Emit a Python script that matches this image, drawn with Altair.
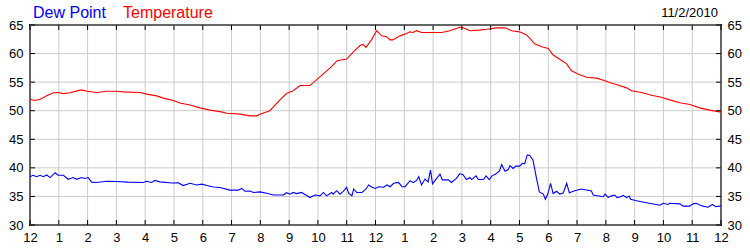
import altair as alt
import pandas as pd

# ---------------- data ----------------
temp_hours = [0, 0.17, 0.35, 0.58, 0.81, 0.98, 1.16, 1.39, 1.74, 1.85, 1.97, 2.32, 2.66, 3.0, 3.24,
              3.82, 4.05, 4.4, 4.63, 4.98, 5.2, 5.56, 5.9, 6.25, 6.65, 6.83, 7.3, 7.64, 7.87, 7.99,
              8.33, 8.68, 8.91, 9.14, 9.38, 9.72, 9.95, 10.18, 10.47, 10.67, 11.0, 11.23, 11.46,
              11.57, 11.67, 11.86, 12.04, 12.21, 12.38, 12.5, 12.6, 12.85, 13.08, 13.19, 13.3,
              13.43, 13.6, 14.0, 14.3, 14.58, 14.93, 15.05, 15.28, 15.6, 15.86, 16.2, 16.5, 16.73,
              17.0, 17.25, 17.53, 17.77, 18.0, 18.17, 18.4, 18.64, 18.81, 19.05, 19.33, 19.68,
              19.97, 20.2, 20.37, 20.72, 20.89, 21.24, 21.58, 21.93, 22.22, 22.57, 22.92, 23.26,
              23.6, 23.96, 24.0]
temp_values = [52.0, 51.8, 52.0, 52.6, 53.15, 53.2, 53.0, 53.15, 53.6, 53.6, 53.4, 53.2, 53.4, 53.4,
               53.3, 53.2, 52.9, 52.6, 52.2, 51.8, 51.35, 51.0, 50.5, 50.1, 49.8, 49.55, 49.4, 49.1,
               49.1, 49.4, 50.0, 51.9, 53.0, 53.5, 54.4, 54.4, 55.4, 56.4, 57.7, 58.75, 59.05, 60.3,
               61.4, 61.6, 61.1, 62.4, 64.0, 63.1, 62.95, 62.4, 62.4, 63.1, 63.5, 63.8, 63.7, 64.0,
               63.7, 63.7, 63.7, 64.0, 64.6, 64.5, 64.0, 64.1, 64.25, 64.5, 64.5, 64.0, 63.8, 63.25,
               61.7, 61.2, 60.9, 59.75, 59.0, 58.2, 57.0, 56.4, 55.85, 55.7, 55.25, 54.8, 54.6, 54.0,
               53.5, 53.2, 52.7, 52.35, 51.9, 51.4, 51.1, 50.5, 50.1, 49.8, 49.8]

dew_hours = [0, 0.1, 0.23, 0.35, 0.46, 0.58, 0.7, 0.87, 0.98, 1.16, 1.33, 1.5, 1.62, 1.79, 1.9, 2.02,
             2.14, 2.32, 2.66, 3.0, 3.4, 3.93, 4.05, 4.22, 4.34, 4.51, 4.93, 5.15, 5.32, 5.56, 5.79,
             5.97, 6.14, 6.37, 6.6, 6.94, 7.23, 7.35, 7.47, 7.64, 7.76, 7.99, 8.22, 8.45, 8.8, 8.91,
             9.03, 9.14, 9.26, 9.43, 9.55, 9.72, 9.9, 10.07, 10.19, 10.3, 10.48, 10.53, 10.65, 10.77,
             10.88, 11.0, 11.06, 11.18, 11.24, 11.35, 11.53, 11.67, 11.76, 11.88, 12.0, 12.11, 12.28,
             12.4, 12.51, 12.63, 12.8, 12.92, 13.03, 13.2, 13.31, 13.43, 13.5, 13.6, 13.72, 13.83,
             13.91, 13.98, 14.24, 14.32, 14.53, 14.64, 14.81, 14.93, 15.04, 15.16, 15.28, 15.34,
             15.49, 15.57, 15.75, 15.84, 15.95, 16.04, 16.2, 16.31, 16.38, 16.5, 16.61, 16.67, 16.78,
             16.87, 17.01, 17.1, 17.18, 17.27, 17.35, 17.47, 17.58, 17.69, 17.83, 17.9, 17.99, 18.08,
             18.17, 18.29, 18.4, 18.52, 18.64, 18.73, 18.92, 19.15, 19.5, 19.56, 19.91, 19.97, 20.08,
             20.2, 20.31, 20.39, 20.54, 20.6, 20.72, 20.81, 20.86, 21.07, 21.41, 21.88, 21.99, 22.16,
             22.22, 22.57, 22.68, 22.91, 23.03, 23.14, 23.26, 23.37, 23.55, 23.7, 23.82, 23.96, 24.0]
dew_values = [38.45, 38.7, 38.45, 38.7, 38.45, 38.75, 38.3, 39.15, 38.7, 38.7, 38.0, 38.3, 38.0, 38.3,
              38.15, 38.3, 37.5, 37.45, 37.65, 37.6, 37.5, 37.45, 37.65, 37.45, 37.8, 37.55, 37.35,
              37.4, 36.9, 37.3, 37.0, 37.15, 36.9, 36.65, 36.55, 36.1, 36.1, 36.4, 35.9, 35.95, 35.7,
              35.8, 35.55, 35.25, 35.25, 35.65, 35.4, 35.7, 35.5, 35.7, 35.35, 34.8, 35.25, 35.1, 35.7,
              35.1, 35.7, 35.4, 36.0, 35.4, 35.9, 36.6, 35.6, 35.1, 36.3, 35.7, 35.7, 36.3, 37.0, 36.6,
              36.4, 36.7, 36.6, 37.0, 36.7, 37.3, 37.45, 36.7, 36.7, 37.75, 37.4, 37.8, 38.45, 37.0,
              38.05, 37.55, 39.6, 37.2, 38.9, 37.9, 37.9, 37.45, 38.15, 39.0, 38.8, 37.95, 38.3, 37.95,
              38.6, 37.95, 37.95, 38.6, 37.95, 38.55, 39.0, 39.5, 40.6, 39.4, 39.7, 40.4, 39.9, 40.3,
              40.3, 40.8, 40.7, 42.25, 42.2, 41.4, 38.45, 35.8, 35.4, 34.5, 35.5, 37.3, 35.5, 35.9,
              35.4, 35.6, 37.3, 35.65, 36.0, 36.3, 35.95, 35.25, 34.95, 35.4, 34.85, 35.1, 35.25, 34.8,
              35.0, 35.2, 34.8, 35.05, 34.5, 34.25, 33.9, 33.45, 33.8, 33.6, 33.8, 33.7, 33.3, 33.3,
              33.7, 33.8, 33.5, 33.3, 33.1, 33.6, 33.2, 33.3, 33.3]

hour_ticks = list(range(0, 25))
y_ticks = [30, 35, 40, 45, 50, 55, 60, 65]
series_names = ["Dew Point", "Temperature"]
series_colors = ["#0000ff", "#ff0000"]
date_label = "11/2/2010"

FONT = "Liberation Sans"
W, H = 691, 200
GRID = "#cccccc"

temp_df = pd.DataFrame({"hour": temp_hours, "value": temp_values})
dew_df = pd.DataFrame({"hour": dew_hours, "value": dew_values})
hours_df = pd.DataFrame({"hour": hour_ticks})
yt_df = pd.DataFrame({"v": y_ticks})

x_scale = alt.Scale(domain=[0, 24], nice=False, zero=False)
y_scale = alt.Scale(domain=[30, 65], nice=False, zero=False)

label_expr = "datum.value % 12 == 0 ? '12' : '' + (datum.value % 12)"
x_axis = alt.Axis(values=hour_ticks, labelExpr=label_expr, grid=False, domain=False,
                  ticks=False, tickSize=0, labelPadding=6, title=None, labelAngle=0,
                  labelFlush=False, labelOverlap=False, orient="bottom")


def xenc(field="hour"):
    return alt.X(f"{field}:Q", scale=x_scale, axis=x_axis)


# grid lines
vgrid = alt.Chart(hours_df).mark_rule(color=GRID, strokeWidth=1).encode(
    x=xenc(), y=alt.value(0), y2=alt.value(H))
hgrid = alt.Chart(yt_df).mark_rule(color=GRID, strokeWidth=1).encode(
    y=alt.Y("v:Q", scale=y_scale, axis=None), x=alt.value(0), x2=alt.value(W))

dew_line = alt.Chart(dew_df).mark_line(color=series_colors[0], strokeWidth=1.1).encode(
    x=xenc(),
    y=alt.Y("value:Q", scale=y_scale,
            axis=alt.Axis(values=y_ticks, grid=False, domain=False, ticks=False, tickSize=0,
                          labelPadding=7, title=None, orient="left", labelFlush=False)),
)

temp_line = alt.Chart(temp_df).mark_line(color=series_colors[1], strokeWidth=1.1).encode(
    x=xenc(),
    y=alt.Y("value:Q", scale=y_scale,
            axis=alt.Axis(values=y_ticks, grid=False, domain=False, ticks=False, tickSize=0,
                          labelPadding=6, title=None, orient="right", labelFlush=False)),
)

tick_color = "black"
top_ticks = alt.Chart(hours_df).mark_rule(color=tick_color, strokeWidth=1).encode(
    x=xenc(), y=alt.value(0), y2=alt.value(5))
bottom_ticks = alt.Chart(hours_df).mark_rule(color=tick_color, strokeWidth=1).encode(
    x=xenc(), y=alt.value(H), y2=alt.value(H - 5))
left_ticks = alt.Chart(yt_df).mark_rule(color=tick_color, strokeWidth=1).encode(
    y=alt.Y("v:Q", scale=y_scale, axis=None), x=alt.value(0), x2=alt.value(5))
right_ticks = alt.Chart(yt_df).mark_rule(color=tick_color, strokeWidth=1).encode(
    y=alt.Y("v:Q", scale=y_scale, axis=None), x=alt.value(W), x2=alt.value(W - 5))

legend_dew = alt.Chart(alt.Data(values=[{"name": series_names[0]}])).mark_text(
    font=FONT, fontSize=16, color=series_colors[0], align="left", baseline="alphabetic"
).encode(text="name:N", x=alt.value(3), y=alt.value(-7))
legend_temp = alt.Chart(alt.Data(values=[{"name": series_names[1]}])).mark_text(
    font=FONT, fontSize=16, color=series_colors[1], align="left", baseline="alphabetic"
).encode(text="name:N", x=alt.value(93), y=alt.value(-7))
date_text = alt.Chart(alt.Data(values=[{"d": date_label}])).mark_text(
    font=FONT, fontSize=13, color="black", align="right", baseline="alphabetic"
).encode(text="d:N", x=alt.value(W - 3), y=alt.value(-8))

chart = alt.layer(
    vgrid, hgrid, dew_line, temp_line, top_ticks, bottom_ticks, left_ticks, right_ticks,
    legend_dew, legend_temp, date_text
).resolve_scale(y="independent").properties(
    width=W, height=H,
    autosize=alt.AutoSizeParams(type="none"),
    padding={"left": 30, "top": 25, "right": 29, "bottom": 25},
    background="white",
).configure_view(
    stroke="black", strokeWidth=2
).configure_axis(
    labelFont=FONT, labelFontSize=13, labelColor="black"
)

chart.save("out.html", embed_options={"renderer": "svg", "actions": False})
